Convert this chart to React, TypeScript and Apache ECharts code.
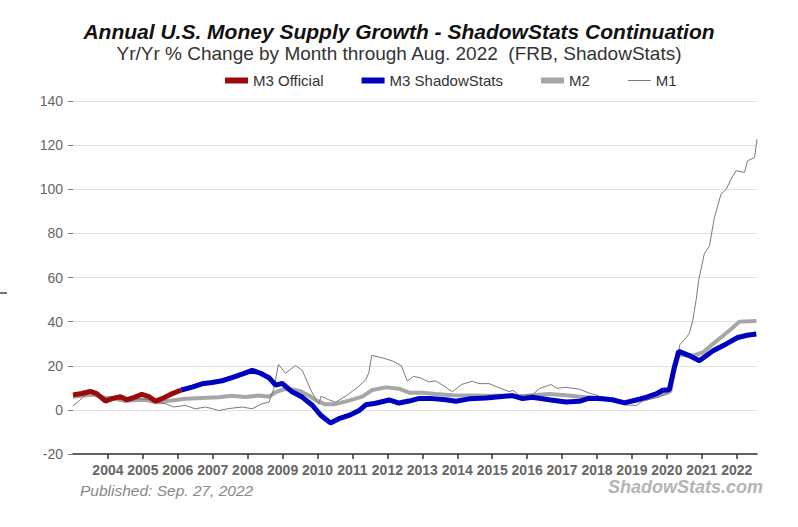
import React, { useEffect, useRef } from "react";
import * as echarts from "echarts";

const titleText = "Annual U.S. Money Supply Growth - ShadowStats Continuation";
const subtitleText = "Yr/Yr % Change by Month through Aug. 2022  (FRB, ShadowStats)";
const publishedText = "Published: Sep. 27, 2022";
const brandText = "ShadowStats.com";

const seriesNames = ["M3 Official", "M3 ShadowStats", "M2", "M1"];
const yearTicks = [2004, 2005, 2006, 2007, 2008, 2009, 2010, 2011, 2012, 2013, 2014, 2015, 2016, 2017, 2018, 2019, 2020, 2021, 2022];

// [decimal year, yr/yr % change]
const m3Official: [number, number][] = [
  [2003.0, 6.8], [2003.25, 7.4], [2003.5, 8.4], [2003.68, 7.4], [2003.93, 4.0], [2004.11, 5.1],
  [2004.36, 6.0], [2004.54, 4.6], [2004.74, 5.6], [2004.97, 7.0], [2005.17, 6.0], [2005.36, 4.0],
  [2005.55, 5.1], [2005.79, 7.0], [2006.1, 9.0],
];

const m3Shadow: [number, number][] = [
  [2006.1, 9.0], [2006.41, 10.3], [2006.69, 11.8], [2006.98, 12.4], [2007.27, 13.2], [2007.55, 14.6],
  [2007.84, 16.2], [2008.13, 17.9], [2008.37, 16.6], [2008.61, 14.6], [2008.8, 11.2], [2008.99, 12.0],
  [2009.27, 8.2], [2009.56, 5.8], [2009.85, 2.1], [2010.09, -2.4], [2010.37, -5.9], [2010.61, -4.0],
  [2010.9, -2.5], [2011.19, -0.3], [2011.38, 2.3], [2011.66, 3.0], [2012.05, 4.5], [2012.33, 3.1],
  [2012.62, 4.0], [2012.91, 5.2], [2013.29, 5.1], [2013.67, 4.6], [2013.96, 3.9], [2014.34, 5.0],
  [2014.82, 5.4], [2015.2, 6.0], [2015.58, 6.5], [2015.87, 5.1], [2016.15, 5.7], [2016.63, 4.6],
  [2017.11, 3.6], [2017.49, 3.9], [2017.78, 5.3], [2018.16, 5.0], [2018.44, 4.6], [2018.78, 3.2],
  [2019.12, 4.5], [2019.4, 5.7], [2019.69, 7.2], [2019.88, 8.9], [2020.07, 9.1], [2020.21, 19.0],
  [2020.34, 26.6], [2020.64, 24.6], [2020.93, 22.3], [2021.31, 26.7], [2021.7, 29.9], [2022.03, 32.8],
  [2022.3, 33.8], [2022.56, 34.4],
];

const m2: [number, number][] = [
  [2003.0, 6.0], [2003.3, 6.5], [2003.6, 6.8], [2003.9, 5.5], [2004.2, 5.0], [2004.5, 4.0],
  [2004.8, 4.5], [2005.1, 4.5], [2005.35, 3.5], [2005.45, 3.5], [2005.83, 4.3], [2006.22, 5.0],
  [2006.69, 5.4], [2007.17, 5.7], [2007.55, 6.4], [2007.94, 5.8], [2008.32, 6.5], [2008.61, 6.0],
  [2008.8, 8.0], [2009.08, 9.5], [2009.3, 9.2], [2009.5, 8.5], [2009.75, 6.5], [2009.94, 4.5],
  [2010.2, 2.6], [2010.5, 2.6], [2010.9, 4.2], [2011.28, 6.0], [2011.57, 9.0], [2011.95, 10.2],
  [2012.33, 9.6], [2012.62, 7.8], [2013.0, 7.8], [2013.38, 7.2], [2013.86, 6.6], [2014.34, 6.5],
  [2014.82, 6.4], [2015.39, 6.4], [2015.68, 5.9], [2016.15, 6.6], [2016.63, 7.2], [2017.11, 6.6],
  [2017.59, 5.8], [2018.07, 5.0], [2018.55, 4.2], [2018.83, 3.4], [2019.21, 4.2], [2019.59, 6.0],
  [2019.97, 7.5], [2020.1, 8.5], [2020.21, 18.0], [2020.34, 25.0], [2020.74, 24.6], [2021.03, 26.0],
  [2021.31, 29.8], [2021.6, 33.5], [2021.89, 37.3], [2022.08, 40.0], [2022.56, 40.3],
];

const m1: [number, number][] = [
  [2003.0, 2.0], [2003.1, 3.0], [2003.3, 6.0], [2003.5, 7.5], [2003.8, 6.5], [2004.0, 5.0],
  [2004.3, 5.5], [2004.6, 4.0], [2004.9, 5.0], [2005.2, 4.5], [2005.45, 3.2], [2005.65, 2.8],
  [2005.88, 1.3], [2006.22, 2.0], [2006.5, 0.5], [2006.79, 1.3], [2007.0, 0.5], [2007.17, -0.3],
  [2007.46, 0.6], [2007.84, 1.3], [2008.13, 0.5], [2008.41, 2.8], [2008.61, 3.5], [2008.75, 9.6],
  [2008.88, 20.6], [2009.08, 16.6], [2009.37, 20.1], [2009.56, 18.0], [2009.82, 8.5], [2010.04, 2.5],
  [2010.1, 6.2], [2010.32, 4.6], [2010.52, 3.5], [2010.8, 6.2], [2011.09, 9.5], [2011.38, 13.5],
  [2011.47, 17.0], [2011.55, 24.7], [2011.85, 23.6], [2012.14, 22.2], [2012.4, 20.0], [2012.57, 13.0],
  [2012.75, 15.2], [2012.95, 14.5], [2013.19, 12.6], [2013.38, 13.2], [2013.67, 10.3], [2013.86, 8.2],
  [2014.12, 11.5], [2014.43, 13.0], [2014.62, 11.9], [2014.91, 11.9], [2015.2, 10.0], [2015.48, 8.3],
  [2015.6, 8.8], [2015.77, 6.6], [2016.15, 6.8], [2016.35, 9.6], [2016.68, 11.5], [2016.85, 9.8],
  [2017.11, 10.2], [2017.49, 9.4], [2017.78, 7.6], [2018.07, 6.2], [2018.44, 4.4], [2018.83, 2.2],
  [2019.13, 2.0], [2019.3, 4.0], [2019.78, 5.8], [2020.05, 8.0], [2020.2, 15.0], [2020.37, 29.5],
  [2020.52, 32.2], [2020.64, 34.5], [2020.74, 40.5], [2020.84, 50.0], [2020.91, 58.6], [2021.07, 70.7],
  [2021.22, 74.4], [2021.36, 87.2], [2021.55, 97.8], [2021.7, 100.0], [2021.84, 104.6], [2021.98, 108.4],
  [2022.22, 107.6], [2022.31, 112.9], [2022.51, 114.4], [2022.58, 122.7],
];

const FONT = "'Liberation Sans', Arial, sans-serif";

export default function App() {
  const ref = useRef<HTMLDivElement>(null);

  useEffect(() => {
    if (!ref.current) return;
    const chart = echarts.init(ref.current, null, { renderer: "svg" });
    chart.setOption({
      animation: false,
      backgroundColor: "#ffffff",
      textStyle: { fontFamily: FONT },
      title: [
        {
          text: titleText,
          left: "center",
          top: 16,
          textStyle: { fontFamily: FONT, fontSize: 21, fontWeight: "bold", fontStyle: "italic", color: "#111" },
        },
        {
          text: subtitleText,
          left: "center",
          top: 39,
          textStyle: { fontFamily: FONT, fontSize: 19, fontWeight: "normal", color: "#333" },
        },
      ],
      legend: {
        left: 225,
        top: 73,
        padding: 0,
        itemWidth: 23,
        itemHeight: 6,
        itemGap: 38,
        symbolKeepAspect: true,
        selectedMode: false,
        itemStyle: { borderWidth: 0 },
        textStyle: { fontFamily: FONT, fontSize: 15, color: "#333" },
        data: [
          { name: seriesNames[0], icon: "rect" },
          { name: seriesNames[1], icon: "rect" },
          { name: seriesNames[2], icon: "rect" },
          { name: seriesNames[3], icon: "path://M0,0L23,0L23,1L0,1Z" },
        ],
      },
      grid: { left: 73, right: 41, top: 101, bottom: 73, containLabel: false },
      xAxis: {
        type: "value",
        min: 2003,
        max: 2022.58,
        interval: 1,
        axisLine: { show: true, onZero: false, lineStyle: { color: "#333", width: 1.5 } },
        axisTick: { show: true, length: 5, customValues: yearTicks, lineStyle: { color: "#333", width: 1.5 } },
        axisLabel: {
          customValues: yearTicks,
          formatter: (v: number) => String(Math.round(v)),
          fontFamily: FONT,
          fontSize: 14,
          fontWeight: "bold",
          color: "#666",
          margin: 9,
        },
        splitLine: { show: false },
      },
      yAxis: {
        type: "value",
        min: -20,
        max: 140,
        interval: 20,
        axisLine: { show: false },
        axisTick: { show: true, length: 5, lineStyle: { color: "#777" } },
        axisLabel: { fontFamily: FONT, fontSize: 14, color: "#666", margin: 10 },
        splitLine: { show: true, lineStyle: { color: "#e2e2e2", width: 1 } },
      },
      graphic: [
        {
          type: "text",
          left: 80,
          top: 482,
          style: { text: publishedText, fontFamily: FONT, fontSize: 15.5, fontStyle: "italic", fill: "#888" },
        },
        {
          type: "text",
          right: 35,
          top: 478,
          style: { text: brandText, fontFamily: FONT, fontSize: 18, fontStyle: "italic", fontWeight: "bold", fill: "#b4b4b4" },
        },
        {
          type: "line",
          shape: { x1: 0, y1: 293, x2: 7, y2: 293 },
          style: { stroke: "#444", lineWidth: 1.5 },
        },
      ],
      series: [
        {
          name: seriesNames[2],
          type: "line",
          data: m2,
          symbol: "none",
          z: 2,
          color: "#a6a6a6",
          lineStyle: { color: "#a6a6a6", width: 4 },
        },
        {
          name: seriesNames[3],
          type: "line",
          data: m1,
          symbol: "none",
          z: 3,
          color: "#7a7a7a",
          lineStyle: { color: "#7a7a7a", width: 1 },
        },
        {
          name: seriesNames[1],
          type: "line",
          data: m3Shadow,
          symbol: "none",
          z: 4,
          color: "#0000c0",
          lineStyle: { color: "#0000c0", width: 5 },
        },
        {
          name: seriesNames[0],
          type: "line",
          data: m3Official,
          symbol: "none",
          z: 5,
          color: "#9b0a0a",
          lineStyle: { color: "#9b0a0a", width: 5 },
        },
      ],
    });
    return () => chart.dispose();
  }, []);

  return (
    <div
      ref={ref}
      style={{ position: "fixed", left: 0, top: 0, width: 798, height: 527, background: "#fff" }}
    />
  );
}
